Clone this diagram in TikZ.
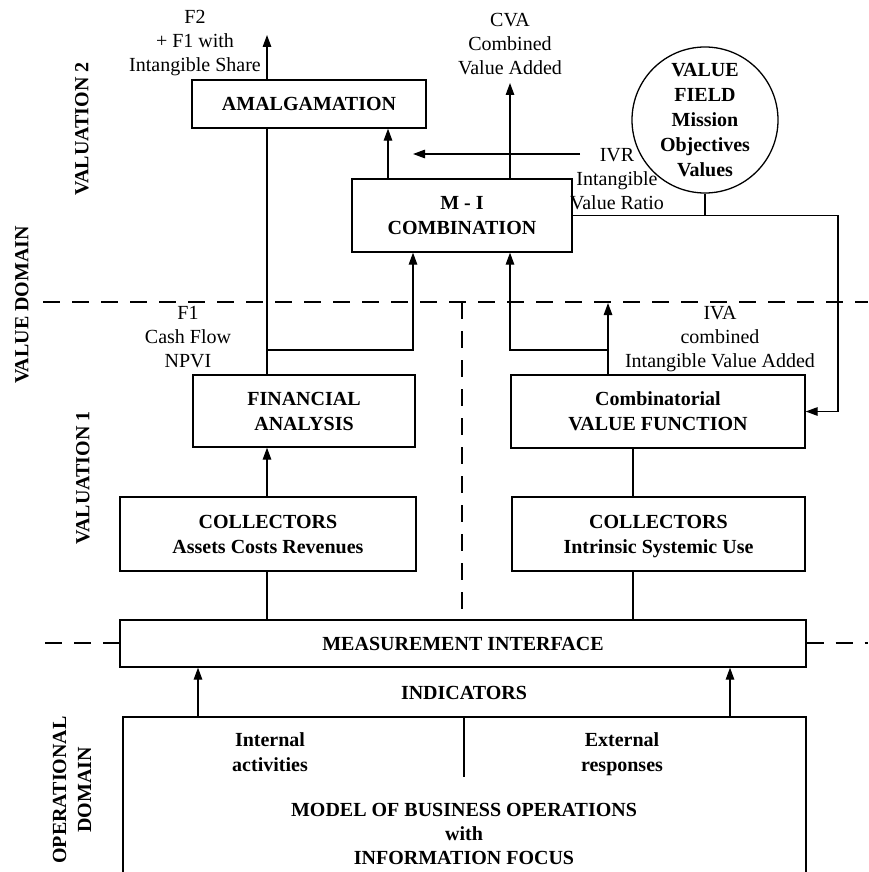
\documentclass[tikz,border=0pt]{standalone}
\usepackage{fontspec}
\setmainfont{Liberation Serif}
\usetikzlibrary{arrows.meta}
% a line whose descenders should not shift the block
\newcommand{\nodepth}[1]{\raisebox{0pt}[\height][0pt]{#1}}
\begin{document}
\begin{tikzpicture}[x=1pt,y=-1pt,
  every node/.style={font=\fontsize{20}{25}\selectfont, inner sep=0pt, align=center},
  box/.style={draw, line width=1.3pt, font=\fontsize{20}{25}\selectfont\bfseries},
  lbl/.style={font=\fontsize{20}{24}\selectfont},
  bold/.style={font=\fontsize{20}{25}\selectfont\bfseries},
  arr/.style={-{Triangle[length=12pt,width=8.5pt]}},
  link/.style={line width=1.3pt},
  sep/.style={dash pattern=on 17pt off 12pt, line width=1.8pt},
  side/.style={rotate=90, font=\fontsize{20}{25}\selectfont\bfseries}
]
\clip (0,0) rectangle (868,872);
\fill[white] (0,0) rectangle (868,872);

% ---------- valuation 2 ----------
\node[box, minimum width=234pt, minimum height=48pt] (amal) at (309,104) {AMALGAMATION};
\node[box, minimum width=220pt, minimum height=73pt] (mi) at (462,215.5) {M - I\\COMBINATION};
\node[draw, circle, line width=1.3pt, minimum size=146pt, bold] (vf) at (705,120)
  {VALUE\\FIELD\\Mission\\Objectives\\Values};

% ---------- valuation 1 ----------
\node[box, minimum width=222pt, minimum height=72pt] (fa) at (304,411) {FINANCIAL\\ANALYSIS};
\node[box, minimum width=294pt, minimum height=73pt] (cvf) at (658,411.5) {Combinatorial\\VALUE FUNCTION};
\node[box, minimum width=296pt, minimum height=74pt] (colL) at (268,534) {COLLECTORS\\Assets Costs Revenues};
\node[box, minimum width=293pt, minimum height=74pt] (colR) at (658.5,534) {COLLECTORS\\\nodepth{Intrinsic Systemic Use}};

% ---------- interface and operations ----------
\node[box, minimum width=686pt, minimum height=47pt] (meas) at (463,643.5) {MEASUREMENT INTERFACE};
\node[draw, line width=1.3pt, minimum width=683pt, minimum height=170pt] (model) at (464.5,802) {};

% ---------- flow labels ----------
\node[lbl] (f2) at (195,43) {F2\\+ F1 with\\Intangible Share};
\node[lbl] (cva) at (510,44) {CVA\\Combined\\Value Added};
\node[lbl] (ivr) at (617,179) {IVR\\Intangible\\Value Ratio};
\node[lbl] (f1) at (188,337) {F1\\Cash Flow\\NPVI};
\node[lbl] (iva) at (720,339) {IVA\\combined\\Intangible Value Added};
\node[bold] (ind) at (464,693) {INDICATORS};
\node[bold] (intl) at (270,752) {Internal\\activities};
\node[bold] (extl) at (622,752) {External\\\nodepth{responses}};
\node[bold, font=\fontsize{20}{24}\selectfont\bfseries] (mbo) at (464,834)
  {MODEL OF BUSINESS OPERATIONS\\with\\INFORMATION FOCUS};

% ---------- side labels ----------
\node[side] (vdom) at (22,305) {VALUE DOMAIN};
\node[side] (val2) at (82,129) {VALUATION 2};
\node[side] (val1) at (83,478) {VALUATION 1};
\node[side] (odom) at (72,790) {OPERATIONAL\\DOMAIN};

% ---------- connector anchors ----------
\coordinate (f2tip) at (267,35);
\coordinate (cvatip) at (510,83);
\coordinate (ivrs) at (580,154);
\coordinate (ivrt) at (413,154);
\coordinate (j1) at (267,350);
\coordinate (ivatip) at (608,303);
\coordinate (rc) at (838,216);
\coordinate (cR) at (633,0);
\coordinate (cM) at (388,0);
\coordinate (inL) at (198,0);
\coordinate (inR) at (730,0);
\coordinate (sepL) at (43,302);
\coordinate (sepR) at (868,302);
\coordinate (sepL2) at (45,643);
\coordinate (sepR2) at (868,643);
\coordinate (sepV) at (462,302);

% ---------- domain separators ----------
\draw[sep] (sepL) -- (sepR);
\draw[sep] (sepV) -- (meas.north -| sepV);
\draw[sep] (sepL2) -- (meas.west |- sepL2);
\draw[sep] (meas.east |- sepR2) -- (sepR2);

% ---------- connectors ----------
\draw[link] (fa.north -| f2tip) -- (amal.south -| f2tip);
\draw[link, arr] (amal.north -| f2tip) -- (f2tip);
\draw[link, arr] (mi.north -| cM) -- (amal.south -| cM);
\draw[link, arr] (mi.north -| cvatip) -- (cvatip);
\draw[link, arr] (ivrs) -- (ivrt);
\draw[link] (vf.south) -- (vf.south |- mi.east);
\draw[link, arr] (mi.east) -- (mi.east -| rc) |- (cvf.east);
\draw[link, arr] (j1) -| (mi.south -| ivrt);
\draw[link, arr] (cvf.north -| ivatip) -- (ivatip);
\draw[link, arr] (ivatip |- j1) -| (mi.south -| cvatip);
\draw[link, arr] (colL.north -| f2tip) -- (fa.south -| f2tip);
\draw[link] (colL.south -| f2tip) -- (meas.north -| f2tip);
\draw[link] (cvf.south -| cR) -- (colR.north -| cR);
\draw[link] (colR.south -| cR) -- (meas.north -| cR);
\draw[link, arr] (model.north -| inL) -- (meas.south -| inL);
\draw[link, arr] (model.north -| inR) -- (meas.south -| inR);
\draw[link] (model.north -| ind) -- ++(0,61);
\end{tikzpicture}
\end{document}
